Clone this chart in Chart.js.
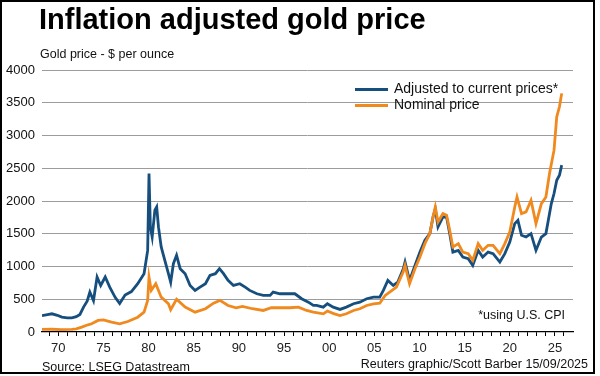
<!DOCTYPE html>
<html lang="en">
<head>
  <meta charset="UTF-8" />
  <title>Inflation adjusted gold price</title>
  <script src="https://cdn.jsdelivr.net/npm/chart.js"></script>
  <style>
    body {
        margin: 0;
        background: #fff;
        font-family: "Liberation Sans", Arial, sans-serif;
        color: #111;
    }
    .frame {
        position: absolute;
        left: 0; top: 0;
        width: 595px; height: 374px;
        box-sizing: border-box;
        border: 2px solid #000;
    }
    .chart {
        position: absolute;
        left: 0; top: 0;
        width: 600px; height: 376px;
    }
    .txt { position: absolute; white-space: nowrap; }
    h1 {
        position: absolute;
        left: 39px; top: 3px;
        margin: 0;
        font-size: 29px;
        font-weight: bold;
        color: #000;
    }
    .swatch { position: absolute; height: 3px; width: 33px; }
  </style>
</head>
<body>
  <div class="chart"><canvas id="goldChart"></canvas></div>
  <div class="frame"></div>
  <h1>Inflation adjusted gold price</h1>
  <div class="txt" style="left:40px;top:47px;font-size:12.5px">Gold price - $ per ounce</div>

  <div class="swatch" style="left:355px;top:88px;background:#164e7e"></div>
  <div class="txt" style="left:394px;top:80px;font-size:14px">Adjusted to current prices*</div>
  <div class="swatch" style="left:355px;top:104px;background:#f0891e"></div>
  <div class="txt" style="left:394px;top:96px;font-size:14px">Nominal price</div>

  <div class="txt" style="right:35px;top:308px;font-size:12.5px">*using U.S. CPI</div>
  <div class="txt" style="left:42px;top:360px;font-size:12.5px">Source: LSEG Datastream</div>
  <div class="txt" style="right:12px;top:357px;font-size:12.5px">Reuters graphic/Scott Barber 15/09/2025</div>

  <script>
    // values (year as decimal, $ per ounce)
    const adjustedYears = [1968.2, 1968.8, 1969.3, 1969.9, 1970.4, 1971.0, 1971.5, 1972.0, 1972.4, 1972.8,
      1973.2, 1973.5, 1973.9, 1974.3, 1974.7, 1975.2, 1975.7, 1976.3, 1976.8, 1977.4,
      1978.1, 1978.8, 1979.5, 1979.9, 1980.05, 1980.2, 1980.4, 1980.7, 1980.9, 1981.1,
      1981.4, 1981.8, 1982.2, 1982.45, 1982.75, 1983.1, 1983.5, 1984.05, 1984.6, 1985.15,
      1985.7, 1986.3, 1986.8, 1987.4, 1987.85, 1988.3, 1988.8, 1989.4, 1990.1, 1990.7,
      1991.2, 1992.0, 1992.7, 1993.45, 1993.8, 1994.55, 1995.3, 1996.2, 1996.95, 1997.7,
      1998.25, 1998.6, 1999.35, 1999.8, 2000.45, 2001.2, 2001.9, 2002.7, 2003.4, 2004.15,
      2004.9, 2005.6, 2006.0, 2006.5, 2007.1, 2007.6, 2008.2, 2008.4, 2008.9, 2009.5,
      2010.05, 2010.6, 2011.15, 2011.5, 2011.75, 2012.05, 2012.6, 2013.0, 2013.35, 2013.7,
      2014.3, 2014.8, 2015.4, 2015.9, 2016.5, 2017.0, 2017.6, 2018.15, 2018.9, 2019.45,
      2020.0, 2020.55, 2020.9, 2021.3, 2021.8, 2022.35, 2022.9, 2023.5, 2024.0, 2024.6,
      2024.9, 2025.2, 2025.5, 2025.75];
    const adjusted = [250, 265, 278, 255, 227, 215, 217, 235, 268, 380,
      470, 610, 480, 840, 710, 840, 685, 530, 435, 565,
      617, 737, 890, 1246, 2420, 1600, 1450, 1860, 1910, 1600,
      1300, 1094, 890, 760, 1043, 1170, 966, 890, 711, 635,
      685, 737, 864, 890, 966, 890, 788, 711, 737, 685,
      635, 584, 558, 558, 609, 584, 584, 584, 508, 456,
      405, 405, 380, 431, 380, 345, 380, 431, 456, 508,
      532, 532, 635, 788, 711, 762, 960, 1068, 788, 1017,
      1220, 1400, 1502, 1756, 1880, 1603, 1756, 1756, 1500, 1220,
      1246, 1144, 1120, 1017, 1246, 1144, 1220, 1196, 1068, 1196,
      1374, 1655, 1705, 1476, 1450, 1502, 1246, 1450, 1502, 1960,
      2114, 2317, 2394, 2547];

    const nominalYears = [1968.2, 1969.3, 1970.3, 1971.5, 1972.0, 1972.6, 1973.3, 1973.7, 1974.4, 1975.0,
      1975.9, 1976.8, 1977.7, 1978.8, 1979.5, 1979.9, 1980.05, 1980.3, 1980.8, 1981.4,
      1982.2, 1982.45, 1983.1, 1984.05, 1985.15, 1986.3, 1987.2, 1987.9, 1988.8, 1989.7,
      1990.4, 1991.5, 1992.7, 1993.6, 1994.55, 1995.65, 1996.6, 1997.5, 1998.25, 1999.35,
      1999.8, 2000.5, 2001.2, 2001.9, 2002.7, 2003.4, 2004.15, 2004.9, 2005.6, 2006.2,
      2006.7, 2007.45, 2008.2, 2008.4, 2008.9, 2009.5, 2010.05, 2010.6, 2011.15, 2011.5,
      2011.75, 2012.05, 2012.6, 2013.0, 2013.35, 2013.7, 2014.3, 2014.8, 2015.4, 2015.9,
      2016.5, 2017.0, 2017.6, 2018.15, 2018.9, 2019.45, 2020.0, 2020.55, 2020.8, 2021.3,
      2021.8, 2022.35, 2022.9, 2023.5, 2024.0, 2024.4, 2024.9, 2025.2, 2025.5, 2025.75];
    const nominal = [40, 42, 36, 40, 48, 75, 110, 125, 176, 185,
      150, 125, 160, 226, 303, 482, 838, 635, 737, 532,
      431, 340, 500, 380, 303, 355, 440, 482, 405, 370,
      390, 355, 329, 370, 370, 370, 380, 329, 303, 278,
      320, 280, 252, 278, 329, 355, 405, 431, 440, 558,
      609, 685, 920, 1017, 737, 966, 1144, 1349, 1502, 1756,
      1909, 1679, 1808, 1782, 1550, 1297, 1349, 1220, 1196, 1094,
      1349, 1246, 1323, 1323, 1196, 1349, 1527, 1909, 2062, 1808,
      1833, 2011, 1655, 1960, 2062, 2420, 2776, 3285, 3438, 3643];

    const tickYears = [];
    for (let y = 1969; y <= 2026; y++) tickYears.push(y);
    const yTicks = [0, 500, 1000, 1500, 2000, 2500, 3000, 3500, 4000];

    const toPoints = (xs, ys) => xs.map((x, i) => ({x: x, y: ys[i]}));

    new Chart(document.getElementById('goldChart'), {
      type: 'line',
      data: {
        datasets: [{
          label: 'Adjusted to current prices*',
          data: toPoints(adjustedYears, adjusted),
          borderColor: '#164e7e',
          borderWidth: 2.8,
          pointRadius: 0,
          tension: 0,
          order: 2
        }, {
          label: 'Nominal price',
          data: toPoints(nominalYears, nominal),
          borderColor: '#f0891e',
          borderWidth: 2.8,
          pointRadius: 0,
          tension: 0,
          order: 1
        }]
      },
      options: {
        responsive: true,
        maintainAspectRatio: false,
        animation: false,
        layout: { padding: { top: 70, right: 27, left: 0, bottom: 0 } },
        plugins: {
          legend: { display: false },
          tooltip: { enabled: false }
        },
        scales: {
          x: {
            type: 'linear',
            min: 1968.2,
            max: 2027,
            afterBuildTicks: scale => { scale.ticks = tickYears.map(v => ({value: v})); },
            afterFit: scale => { scale.height = 44; },
            border: { display: true, color: '#000', width: 1.2 },
            grid: { drawOnChartArea: false, drawTicks: true, tickLength: 4, color: '#000' },
            ticks: {
              autoSkip: false,
              maxRotation: 0,
              padding: 5,
              color: '#222',
              font: { family: '"Liberation Sans", Arial', size: 13 },
              callback: v => v % 5 === 0 ? String(v % 100).padStart(2, '0') : ''
            }
          },
          y: {
            min: 0,
            max: 4000,
            afterBuildTicks: scale => { scale.ticks = yTicks.map(v => ({value: v})); },
            afterFit: scale => { scale.width = 42; },
            border: { display: false },
            grid: {
              drawTicks: false,
              color: ctx => ctx.tick && ctx.tick.value === 0 ? 'rgba(0,0,0,0)' : '#9c9c9c',
              lineWidth: 1
            },
            ticks: {
              padding: 7,
              color: '#111',
              font: { family: '"Liberation Sans", Arial', size: 13 },
              callback: v => String(v)
            }
          }
        }
      }
    });
  </script>
</body>
</html>
